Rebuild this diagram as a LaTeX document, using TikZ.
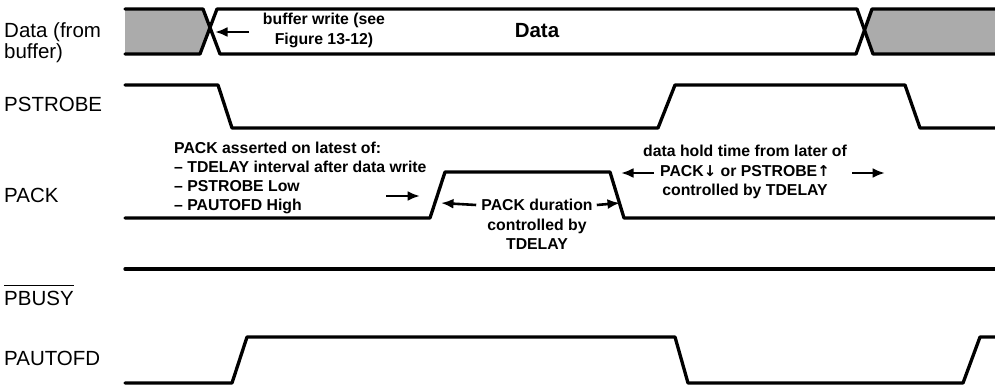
\documentclass[tikz,border=0pt]{standalone}
\usepackage{fontspec}
\setmainfont{Liberation Sans}
\newfontfamily\arrfont{DejaVu Sans}
\usetikzlibrary{arrows.meta}
\begin{document}
\begin{tikzpicture}[x=1pt,y=-1pt,
  sig/.style={line width=3.3pt, line join=round, line cap=round},
  lbl/.style={anchor=west, inner sep=0pt, font=\fontsize{20.5}{21}\selectfont, align=left},
  ann/.style={inner sep=0pt, font=\bfseries\fontsize{15.8}{19.3}\selectfont},
  arr/.style={line width=2.6pt, -{Latex[length=12.5pt,width=10pt]}},
  hatch/.style={fill=black!33}]
\useasboundingbox (0,0) rectangle (995,387);
% hatched (invalid data) regions
\fill[hatch] (125,9) -- (203,9) -- (210,31.5) -- (200,54) -- (125,54) -- cycle;
\fill[hatch] (872,9) -- (995,9) -- (995,54) -- (873,54) -- (864.5,31.5) -- cycle;
% Data
\draw[sig] (125,9) -- (203,9) -- (220,54) -- (856,54) -- (872,9) -- (996,9);
\draw[sig] (125,54) -- (200,54) -- (217,9) -- (857,9) -- (873,54) -- (996,54);
% PSTROBE
\draw[sig] (125,85) -- (218,85) -- (232,128) -- (658,128) -- (675,85) -- (905,85) -- (920,128) -- (996,128);
% PACK
\draw[sig] (125,218) -- (430,218) -- (445,172) -- (610,172) -- (624,218) -- (996,218);
% PBUSY
\draw[sig] (125,269) -- (996,269);
% PAUTOFD
\draw[sig] (125,383) -- (232,383) -- (247,337) -- (675,337) -- (688,383) -- (963,383) -- (980,337) -- (996,337);
% signal labels
\node[lbl] (ldata) at (4,43) {Data (from\\buffer)};
\node[lbl] (lps) at (4,104.5) {PSTROBE};
\node[lbl] (lpack) at (4,195) {PACK};
\node[lbl] (lpbusy) at (4,298) {PBUSY};
\draw[line width=1pt] ([yshift=5pt]lpbusy.north west) -- ([yshift=5pt]lpbusy.north east);
\node[lbl] (lpaut) at (4,358) {PAUTOFD};
% annotations
\node[ann, align=center] (bw) at (324,30.5) {buffer write (see\\Figure 13-12)};
\coordinate (bwt) at (249,32);
\coordinate (bwh) at (215,32);
\draw[arr] (bwt) -- (bwh);
\node[inner sep=0pt, font=\bfseries\fontsize{20.5}{22}\selectfont] (dtxt) at (537,31) {Data};
\node[ann, align=left, anchor=west] (pa) at (174,178) {PACK asserted on latest of:\\– TDELAY interval after data write\\– PSTROBE Low\\– PAUTOFD High};
\coordinate (pat) at (386,196);
\coordinate (pah) at (420,196);
\draw[arr] (pat) -- (pah);
\node[ann] (pd) at (537,205) {PACK duration};
\node[ann, align=center] (pc) at (537,234) {controlled by\\TDELAY};
\coordinate (pdl) at (441,203);
\coordinate (pdr) at (620,203);
\draw[arr] ([xshift=-5pt]pd.west) -- (pdl);
\draw[arr] ([xshift=4pt]pd.east) -- (pdr);
\node[ann, align=center] (dh) at (745,172) {data hold time from later of\\PACK{\arrfont\fontsize{15}{19}\selectfont↓} or PSTROBE{\arrfont\fontsize{15}{19}\selectfont↑}\\controlled by TDELAY};
\coordinate (dhl) at (621,173);
\coordinate (dhlt) at (654,173);
\coordinate (dhrt) at (852,173);
\coordinate (dhr) at (885,173);
\draw[arr] (dhlt) -- (dhl);
\draw[arr] (dhrt) -- (dhr);
\end{tikzpicture}
\end{document}
